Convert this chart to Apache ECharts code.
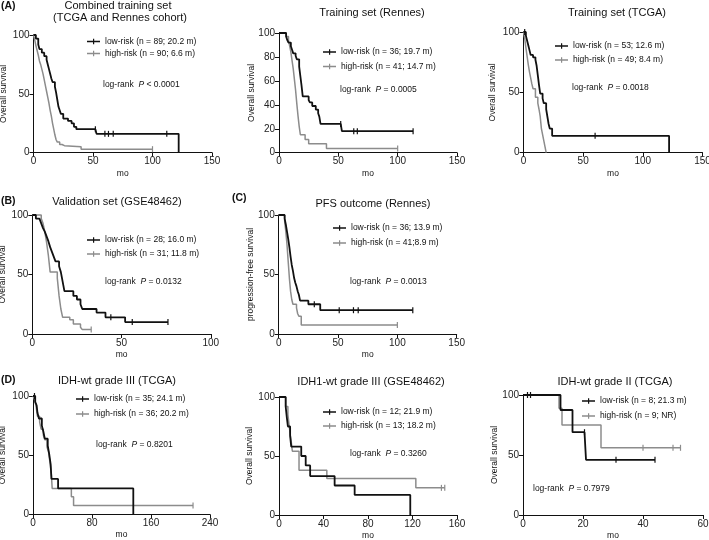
<!DOCTYPE html>
<html>
<head>
<meta charset="utf-8">
<script src="https://cdn.jsdelivr.net/npm/echarts@6/dist/echarts.min.js"></script>
<style>
html, body { margin: 0; padding: 0; background: #fff; }
#chart { width: 709px; height: 540px; }
</style>
</head>
<body>
<div id="chart"></div>
<script>
// KM curves: [month, survival %] after each drop; censored = months with a tick mark

// (A) combined training set
const combinedLowSteps = [[0,100],[2,97],[4,92],[5,88],[7,85],[9,82],[11,79],[12,75],[13,71],[14,67],[15,63],[16,60],[18,56],[19,51],[20,45],[21,39],[22,36],[23,33],[25,29],[29,27],[32,25],[34,22],[36,20],[53,16],[122,0]];
const combinedLowCensored = [52, 60, 63, 67, 112];
const combinedHighSteps = [[0,100],[1,96],[2,91],[3,87],[4,83],[5,78],[6,75],[7,71],[8,67],[9,62],[10,57],[11,52],[12,47],[13,42],[14,36],[15,31],[16,25],[17,20],[18,15],[19,11],[20,9],[22,7],[24,6],[26,5],[40,3]];
const combinedHighCensored = [100];

// training set (Rennes)
const rennesLowSteps = [[0,100],[6,97],[7,94],[8,92],[10,89],[11,86],[12,83],[14,81],[15,78],[17,72],[18,64],[19,56],[20,47],[25,44],[26,42],[28,39],[31,36],[33,33],[34,30],[35,24],[53,18]];
const rennesLowCensored = [52, 63, 66, 113];
const rennesHighSteps = [[0,100],[6,97],[8,94],[9,89],[10,84],[11,77],[12,70],[13,61],[14,52],[15,41],[16,31],[17,22],[18,15],[22,11],[25,7.5],[40,3.6]];
const rennesHighCensored = [100];

// training set (TCGA)
const tcgaLowSteps = [[0,100],[2,97],[3,93],[4,89],[5,85],[6,81],[8,79],[10,77],[11,72],[12,64],[13,56],[14,49],[16,45],[17,41],[19,36],[20,30],[21,24],[22,20],[24,14],[122,0]];
const tcgaLowCensored = [1, 60];
const tcgaHighSteps = [[0,100],[1,95],[2,87],[3,80],[4,73],[5,67],[6,62],[7,57],[8,53],[10,46],[12,41],[13,36],[14,30],[15,20],[16,15],[17,10],[18,5],[19,0]];
const tcgaHighCensored = [];

// (B) validation set GSE48462
const gseLowSteps = [[0,100],[2,97],[4,96],[5,93],[6,89],[7,86],[8,82],[9,78],[10,73],[11,69],[12,65],[13,61],[15,57],[16,52],[17,44],[18,36],[23,32],[25,29],[27,25],[28,21],[36,18],[41,14],[52,10]];
const gseLowCensored = [44, 56, 76];
const gseHighSteps = [[0,100],[5,97],[6,93],[7,86],[8,77],[9,66],[10,52],[14,47],[15,32],[16,21],[17,14],[21,12],[23,8.5],[27,5.6],[28,3.7]];
const gseHighCensored = [33];

// (C) PFS outcome (Rennes)
const pfsLowSteps = [[0,100],[5,97],[6,92],[7,86],[8,80],[9,73],[10,65],[11,58],[12,53],[13,47],[14,43],[15,40],[16,36],[17,33],[18,28],[25,25],[35,20]];
const pfsLowCensored = [30, 51, 63, 67, 113];
const pfsHighSteps = [[0,100],[5,95],[6,86],[7,75],[8,61],[9,47],[10,36],[11,29],[12,25],[15,22],[16,17],[17,15],[19,7.5]];
const pfsHighCensored = [100];

// (D) IDH-wt grade III (TCGA)
const idh3LowSteps = [[0,100],[3,95],[5,92],[6,86],[8,81],[12,75],[14,70],[16,64],[20,58],[22,51],[24,42],[25,30],[34,22],[136,0]];
const idh3LowCensored = [2];
const idh3HighSteps = [[0,100],[2,97],[4,92],[6,83],[9,78],[11,72],[14,67],[16,63],[19,57],[21,53],[23,44],[25,33],[26,22],[52,15],[55,7.5]];
const idh3HighCensored = [217];

// IDH1-wt grade III (GSE48462)
const idh1LowSteps = [[0,100],[6,92],[7,83],[8,75],[10,67],[11,58],[20,50],[24,42],[28,33],[50,25],[68,17],[118,0]];
const idh1LowCensored = [];
const idh1HighSteps = [[0,100],[6,92],[8,85],[9,77],[10,69],[11,62],[12,54],[18,38],[43,31],[123,23]];
const idh1HighCensored = [146, 149];

// IDH-wt grade II (TCGA)
const idh2LowSteps = [[0,100],[12.5,87.5],[16.5,69],[21,46]];
const idh2LowCensored = [1.5, 2.5, 20.5, 31, 44];
const idh2HighSteps = [[0,100],[12,89],[13,75],[26,56]];
const idh2HighCensored = [40, 50, 52.5];

// texts
const lowLabels = ['low-risk (n = 89; 20.2 m)', 'low-risk (n = 36; 19.7 m)', 'low-risk (n = 53; 12.6 m)', 'low-risk (n = 28; 16.0 m)', 'low-risk (n = 36; 13.9 m)', 'low-risk (n = 35; 24.1 m)', 'low-risk (n = 12; 21.9 m)', 'low-risk (n = 8; 21.3 m)'];
const highLabels = ['high-risk (n = 90; 6.6 m)', 'high-risk (n = 41; 14.7 m)', 'high-risk (n = 49; 8.4 m)', 'high-risk (n = 31; 11.8 m)', 'high-risk (n = 41;8.9 m)', 'high-risk (n = 36; 20.2 m)', 'high-risk (n = 13; 18.2 m)', 'high-risk (n = 9; NR)'];
const pValues = ['< 0.0001', '= 0.0005', '= 0.0018', '= 0.0132', '= 0.0013', '= 0.8201', '= 0.3260', '= 0.7979'];
const xMaxes = [150, 150, 150, 100, 150, 240, 160, 60];
const xSteps = [50, 50, 50, 50, 50, 80, 40, 20];
const ySteps = [50, 20, 50, 50, 50, 50, 50, 50];
const yNames = ['Overall survival', 'Overall survival', 'Overall survival', 'Overall survival', 'progression-free survival', 'Overall survival', 'Overall survival', 'Overall survival'];

const FONT = '"Liberation Sans", Arial, sans-serif';
const BLACK = '#111';
const GRAY = '#8c8c8c';

// layout for each panel
const panels = [
    { low: combinedLowSteps, lowC: combinedLowCensored, high: combinedHighSteps, highC: combinedHighCensored,
      grid: [33.5, 35, 178.5, 117.7], yGap: 25, legend: [87, 41.5, 12], logrank: [103, 85] },
    { low: rennesLowSteps, lowC: rennesLowCensored, high: rennesHighSteps, highC: rennesHighCensored,
      grid: [279, 33, 178, 119.7], yGap: 23, legend: [323, 52, 14.5], logrank: [340, 90] },
    { low: tcgaLowSteps, lowC: tcgaLowCensored, high: tcgaHighSteps, highC: tcgaHighCensored,
      grid: [523.5, 32, 179, 120.7], yGap: 26, legend: [555, 46, 14], logrank: [572, 88] },
    { low: gseLowSteps, lowC: gseLowCensored, high: gseHighSteps, highC: gseHighCensored,
      grid: [32.3, 215, 178.5, 119], yGap: 25, legend: [87, 240, 14], logrank: [105, 282] },
    { low: pfsLowSteps, lowC: pfsLowCensored, high: pfsHighSteps, highC: pfsHighCensored,
      grid: [278.7, 215, 178, 119], yGap: 24, legend: [333, 228, 15], logrank: [350, 282] },
    { low: idh3LowSteps, lowC: idh3LowCensored, high: idh3HighSteps, highC: idh3HighCensored,
      grid: [33, 396, 177, 118.5], yGap: 26, legend: [76, 399, 15], logrank: [96, 445] },
    { low: idh1LowSteps, lowC: idh1LowCensored, high: idh1HighSteps, highC: idh1HighCensored,
      grid: [279, 397, 178, 118], yGap: 25, legend: [323, 412, 14], logrank: [350, 454] },
    { low: idh2LowSteps, lowC: idh2LowCensored, high: idh2HighSteps, highC: idh2HighCensored,
      grid: [523, 395, 180, 120], yGap: 24, legend: [582, 401, 15], logrank: [533, 489] }
];

// panel titles: [text, centre x, centre y]
const titles = [
    ['Combined training set', 118, 6], ['(TCGA and Rennes cohort)', 120, 18],
    ['Training set (Rennes)', 372, 13], ['Training set (TCGA)', 617, 13],
    ['Validation set (GSE48462)', 117, 202], ['PFS outcome (Rennes)', 373, 204],
    ['IDH-wt grade III (TCGA)', 117, 381], ['IDH1-wt grade III (GSE48462)', 371, 382],
    ['IDH-wt grade II (TCGA)', 615, 382]
];
const panelTags = [['(A)', 1, 6], ['(B)', 1, 201], ['(C)', 232, 198], ['(D)', 1, 380]];

// survival level at time t from the step list
function levelAt(steps, t) {
    let s = steps[0][1];
    steps.forEach(p => { if (p[0] <= t) s = p[1]; });
    return s;
}

function curveData(steps, censored) {
    const pts = steps.map(p => ({ value: p }));
    censored.forEach(t => {
        pts.push({ value: [t, levelAt(steps, t)], symbol: 'rect', symbolSize: [1.2, 6] });
    });
    pts.sort((a, b) => a.value[0] - b.value[0]);
    return pts;
}

const legendIcon = 'path://M0,2L13,2L13,3.4L0,3.4Z M6,0L7.2,0L7.2,5.4L6,5.4Z';

const option = {
    animation: false,
    grid: [], xAxis: [], yAxis: [], series: [], legend: [], graphic: []
};

panels.forEach((p, i) => {
    option.grid.push({
        left: p.grid[0], top: p.grid[1], width: p.grid[2], height: p.grid[3],
        containLabel: false, outerBoundsMode: 'none'
    });
    const axisCommon = {
        gridIndex: i,
        type: 'value',
        min: 0,
        splitLine: { show: false },
        axisLine: { show: true, lineStyle: { color: BLACK, width: 1 } },
        axisTick: { show: true, inside: false, length: 4, lineStyle: { color: BLACK, width: 1 } },
        axisLabel: { fontSize: 10, color: '#222', fontFamily: FONT, margin: 4 },
        nameLocation: 'middle',
        nameMoveOverlap: false,
        nameTextStyle: { fontSize: 8.5, color: BLACK, fontFamily: FONT }
    };
    option.xAxis.push(Object.assign({}, axisCommon, {
        max: xMaxes[i], interval: xSteps[i], name: 'mo', nameGap: 16
    }));
    option.yAxis.push(Object.assign({}, axisCommon, {
        max: 100, interval: ySteps[i], name: yNames[i], nameGap: p.yGap, nameRotate: 90
    }));

    const lineSeries = (name, steps, cens, color, width, z) => ({
        type: 'line', name, xAxisIndex: i, yAxisIndex: i,
        step: 'end', data: curveData(steps, cens),
        symbol: 'none', showSymbol: true, clip: false, silent: true, z,
        lineStyle: { color, width }, itemStyle: { color },
        emphasis: { disabled: true }
    });
    option.series.push(lineSeries(highLabels[i], p.high, p.highC, GRAY, 1.5, 2));
    option.series.push(lineSeries(lowLabels[i], p.low, p.lowC, BLACK, 1.8, 3));

    option.legend.push({
        left: p.legend[0], top: p.legend[1] - 5,
        orient: 'vertical', padding: 0,
        itemGap: p.legend[2] - 10, itemWidth: 13, itemHeight: 5.4,
        selectedMode: false,
        textStyle: { fontSize: 8.5, lineHeight: 10, color: BLACK, fontFamily: FONT },
        data: [
            { name: lowLabels[i], icon: legendIcon },
            { name: highLabels[i], icon: legendIcon }
        ]
    });

    option.graphic.push({
        type: 'text', x: p.logrank[0], y: p.logrank[1], silent: true,
        style: {
            text: '{a|log-rank  }{b|P}{a| ' + pValues[i] + '}',
            textVerticalAlign: 'middle', verticalAlign: 'middle',
            rich: {
                a: { fontSize: 8.5, fontFamily: FONT, fill: BLACK },
                b: { fontSize: 8.5, fontFamily: FONT, fontStyle: 'italic', fill: BLACK }
            }
        }
    });
});

titles.forEach(t => {
    option.graphic.push({
        type: 'text', x: t[1], y: t[2], silent: true,
        style: {
            text: t[0], font: '11px ' + FONT, fill: BLACK,
            textAlign: 'center', align: 'center', textVerticalAlign: 'middle', verticalAlign: 'middle'
        }
    });
});
panelTags.forEach(t => {
    option.graphic.push({
        type: 'text', x: t[1], y: t[2], silent: true,
        style: {
            text: t[0], font: 'bold 10.5px ' + FONT, fill: BLACK,
            textAlign: 'left', align: 'left', textVerticalAlign: 'middle', verticalAlign: 'middle'
        }
    });
});

const chart = echarts.init(document.getElementById('chart'));
chart.setOption(option);

window.addEventListener('resize', function() {
    chart.resize();
});
</script>
</body>
</html>
